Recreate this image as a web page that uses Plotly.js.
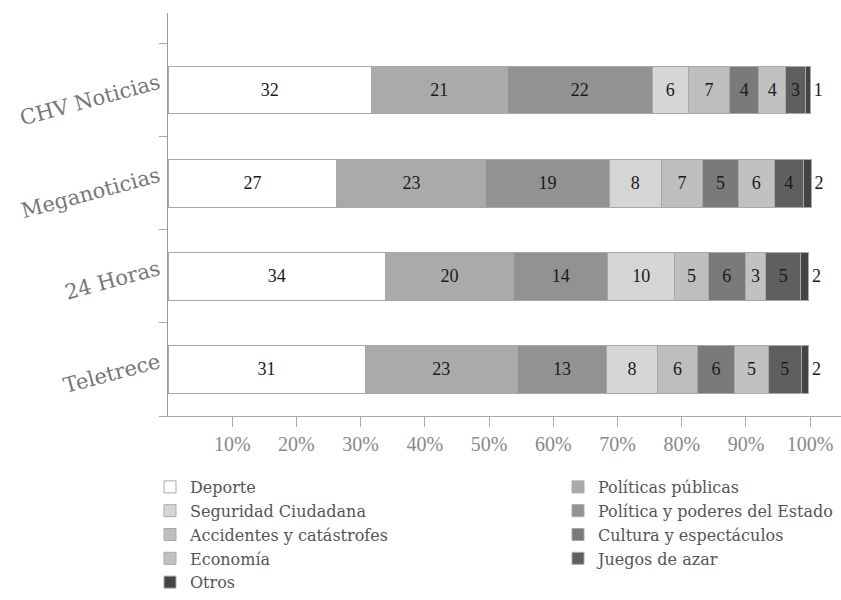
<!DOCTYPE html>
<html>
<head>
<meta charset="utf-8">
<script src="https://cdn.plot.ly/plotly-3.0.1.min.js"></script>
<style>html,body{margin:0;padding:0;background:#fff;}#chart{width:841px;height:600px;}</style>
</head>
<body>
<div id="chart"></div>
<script>
// Channels, bottom to top
const channels = ['Teletrece', '24 Horas', 'Meganoticias', 'CHV Noticias'];

// Series values (share of news, %), order matches channels
const deporte            = [30.7, 33.9, 26.3, 31.7];
const politicasPublicas  = [23.7, 19.9, 23.2, 21.1];
const politicaPoderes    = [13.9, 14.7, 19.2, 22.6];
const seguridad          = [7.9, 10.4, 8.1, 5.6];
const accidentes         = [6.3, 5.2, 6.5, 6.5];
const cultura            = [5.7, 5.8, 5.5, 4.5];
const economia           = [5.3, 3.2, 5.6, 4.2];
const juegos             = [5.1, 5.4, 4.5, 3.0];
const otros              = [1.2, 1.3, 1.3, 0.9];

// Printed labels
const deporteLbl           = [31, 34, 27, 32];
const politicasPublicasLbl = [23, 20, 23, 21];
const politicaPoderesLbl   = [13, 14, 19, 22];
const seguridadLbl         = [8, 10, 8, 6];
const accidentesLbl        = [6, 5, 7, 7];
const culturaLbl           = [6, 6, 5, 4];
const economiaLbl          = [5, 3, 6, 4];
const juegosLbl            = [5, 5, 4, 3];
const otrosLbl             = [2, 2, 2, 1];

const xTickVals = [10, 20, 30, 40, 50, 60, 70, 80, 90, 100];
const xTickText = ['10%', '20%', '30%', '40%', '50%', '60%', '70%', '80%', '90%', '100%'];

const series = [
  {name: 'Deporte', x: deporte, t: deporteLbl, color: '#ffffff', legend: 'legend'},
  {name: 'Políticas públicas', x: politicasPublicas, t: politicasPublicasLbl, color: '#aaaaaa', legend: 'legend2'},
  {name: 'Política y poderes del Estado', x: politicaPoderes, t: politicaPoderesLbl, color: '#929292', legend: 'legend2'},
  {name: 'Seguridad Ciudadana', x: seguridad, t: seguridadLbl, color: '#d6d6d6', legend: 'legend'},
  {name: 'Accidentes y catástrofes', x: accidentes, t: accidentesLbl, color: '#bebebe', legend: 'legend'},
  {name: 'Cultura y espectáculos', x: cultura, t: culturaLbl, color: '#7a7a7a', legend: 'legend2'},
  {name: 'Economía', x: economia, t: economiaLbl, color: '#c1c1c1', legend: 'legend'},
  {name: 'Juegos de azar', x: juegos, t: juegosLbl, color: '#5f5f5f', legend: 'legend2'},
  {name: 'Otros', x: otros, t: otrosLbl, color: '#444444', legend: 'legend'}
];

const FONT = '"Liberation Serif", "Times New Roman", serif';
const LFONT = '"DejaVu Serif", "Liberation Serif", serif';

const traces = series.map((s, i) => ({
  type: 'bar',
  orientation: 'h',
  name: s.name,
  y: channels,
  x: s.x,
  text: s.t.map(String),
  texttemplate: '%{text}',
  textposition: i === series.length - 1 ? 'outside' : 'inside',
  insidetextanchor: 'middle',
  constraintext: 'none',
  cliponaxis: false,
  textfont: {family: FONT, size: 18, color: '#1a1a1a'},
  marker: {color: s.color, line: {color: '#a8a8a8', width: 1}},
  legend: s.legend,
  hoverinfo: 'skip'
}));

const legendCommon = {
  xref: 'container', yref: 'container',
  xanchor: 'left', yanchor: 'top',
  orientation: 'v',
  traceorder: 'normal',
  tracegroupgap: 0,
  font: {family: LFONT, size: 16, color: '#555555'},
  bgcolor: 'rgba(0,0,0,0)'
};

const layout = {
  width: 841,
  height: 600,
  margin: {l: 168, r: 0, t: 13, b: 184, autoexpand: false},
  paper_bgcolor: '#ffffff',
  plot_bgcolor: '#ffffff',
  barmode: 'stack',
  bargap: 0.49,
  font: {family: FONT, color: '#777777'},
  showlegend: true,
  xaxis: {
    automargin: false,
    range: [0, 104.8],
    tickvals: xTickVals,
    ticktext: xTickText,
    tickangle: 0,
    ticks: 'outside',
    ticklen: 10,
    tickcolor: '#aaaaaa',
    showline: true,
    linecolor: '#aaaaaa',
    linewidth: 1,
    showgrid: false,
    zeroline: false,
    tickfont: {family: FONT, size: 20, color: '#888888'},
    fixedrange: true
  },
  yaxis: {
    automargin: false,
    type: 'category',
    range: [-0.5, 3.83],
    tickson: 'boundaries',
    ticks: 'outside',
    ticklen: 8,
    tickcolor: '#aaaaaa',
    showline: true,
    linecolor: '#999999',
    linewidth: 1,
    showgrid: false,
    zeroline: false,
    tickangle: -15,
    ticklabelstandoff: 4,
    ticklabelshift: -9,
    tickfont: {family: LFONT, size: 21, color: '#777777'},
    fixedrange: true
  },
  legend: Object.assign({}, legendCommon, {x: 150 / 841, y: (600 - 470) / 600}),
  legend2: Object.assign({}, legendCommon, {x: 558 / 841, y: (600 - 470) / 600})
};

Plotly.newPlot('chart', traces, layout, {staticPlot: true, displayModeBar: false});
</script>
</body>
</html>
